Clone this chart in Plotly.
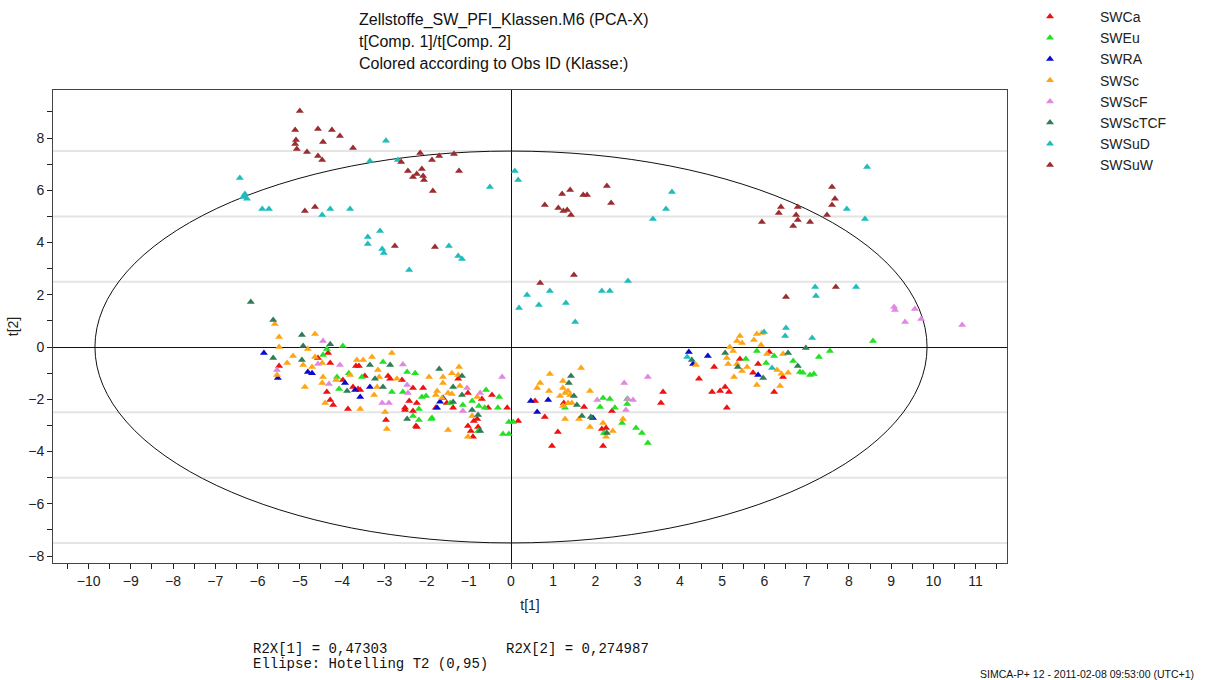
import plotly.graph_objects as go

# ---------------- data (t[1], t[2]) per class ----------------
classes = ["SWCa", "SWEu", "SWRA", "SWSc", "SWScF", "SWScTCF", "SWSuD", "SWSuW"]
colors = ["#ee1111", "#22e022", "#0a0acc", "#ffa515", "#e088e0", "#2e7d55", "#1fbcbc", "#9b2d30"]

SWCa = [(-5.49,-0.73),(-4.33,-0.23),(-4.57,-0.42),(-4.28,-0.61),(-4.36,-1.72),(-4.28,-2.03),(-4.21,-2.22),
        (-3.86,-2.37),(-3.67,-0.73),(-3.60,-0.73),(-3.98,-1.26),(-3.62,-1.61),(-3.46,-1.11),(-2.91,-1.11),
        (-2.86,-1.22),(-3.57,-1.65),(-3.74,-1.53),(-2.96,-2.79),(-2.51,-2.33),(-2.58,-1.26),(-2.32,-1.57),
        (-2.08,-1.57),(-2.41,-2.07),(-2.23,-2.14),(-2.51,-2.41),(-2.32,-2.45),(-2.25,-3.02),(-1.52,-2.14),
        (-1.37,-2.33),(-1.25,-1.22),(-1.02,-1.76),(-0.69,-1.99),(-0.54,-2.33),(-0.45,-1.84),(-0.09,-2.33),
        (0.17,-2.83),(-0.80,-2.76),(-0.88,-2.83),(-1.02,-3.02),(-0.95,-3.22),(-0.90,-3.44),(-0.78,-3.06),
        (-2.23,-3.06),(-1.78,-2.33),(0.57,-2.07),(1.25,-2.14),(1.73,-2.30),(0.80,-2.68),(1.11,-3.25),
        (0.97,-3.79),(2.15,-3.14),(2.25,-3.10),(2.18,-3.79),(2.39,-2.45),(3.60,-1.72),(3.55,-2.14),
        (5.42,-0.46),(6.11,-0.19),(5.85,-0.65),(5.73,-0.99),(4.81,-0.77),(4.45,-1.22),(4.76,-1.72),
        (4.95,-1.68),(5.07,-1.53),(5.16,-1.72),(5.11,-2.33),(6.23,-1.72),(6.44,-1.15)]

SWEu = [(-3.98,0.04),(-4.36,-0.08),(-4.45,-0.31),(-4.12,-1.15),(-3.84,-1.00),(-4.07,-1.61),(-3.53,-1.15),
        (-3.03,-0.57),(-2.82,-1.72),(-2.46,-0.96),(-2.27,-1.00),(-2.56,-1.72),(-2.11,-1.91),(-2.01,-1.88),
        (-2.18,-2.37),(-2.32,-2.64),(-2.18,-2.79),(-1.89,-2.76),(-1.14,-2.22),(-0.92,-2.07),(-0.76,-2.26),
        (-0.59,-1.65),(-0.62,-2.33),(-0.28,-1.91),(-0.31,-2.33),(-0.05,-2.87),(0.05,-2.87),(-0.19,-3.33),
        (-0.05,-3.33),(-0.78,-3.22),(-1.44,-2.14),(-1.87,-2.72),(2.18,-1.95),(2.34,-1.99),(2.11,-2.30),
        (2.46,-2.33),(2.75,-1.99),(2.75,-2.18),(2.63,-2.91),(2.96,-3.10),(3.10,-3.29),(3.24,-3.67),
        (2.20,-3.29),(1.28,-2.33),(5.82,-0.15),(5.56,-0.46),(6.04,-0.61),(6.23,-0.34),(6.68,-0.54),
        (6.84,-0.96),(6.91,-0.99),(7.08,-1.07),(7.17,-1.03),(7.29,-0.38),(7.55,-0.15),(8.57,0.23)]

SWRA = [(-5.85,-0.23),(-5.52,-1.19),(-4.81,-0.96),(-4.71,-1.00),(-3.69,-1.65),(-3.93,-1.38),(-3.34,-1.53),
        (-3.57,-1.91),(-1.61,-1.95),(-1.75,-2.33),(-1.68,-2.10),(0.47,-2.07),(0.88,-2.03),(0.62,-2.49),
        (1.94,-2.72),(4.21,-0.19),(4.66,-0.34),(4.31,-0.65),(5.85,-1.07)]

SWSc = [(-5.59,0.88),(-5.49,0.38),(-5.49,0.00),(-4.64,0.50),(-4.81,-0.08),(-5.16,-0.34),(-5.30,-0.61),
        (-4.92,-0.69),(-5.54,-1.07),(-4.88,-1.53),(-4.47,-0.61),(-4.64,-0.38),(-4.71,-0.77),(-4.45,-1.15),
        (-4.47,-1.38),(-4.40,-2.14),(-3.65,-0.50),(-3.50,-0.50),(-3.29,-0.38),(-2.82,-0.23),(-3.15,-0.88),
        (-3.17,-1.53),(-3.24,-1.84),(-3.57,-2.37),(-4.14,-1.26),(-3.81,-1.07),(-3.12,-1.15),(-2.98,-2.49),
        (-2.94,-3.14),(-2.70,-1.22),(-1.94,-1.15),(-1.61,-1.15),(-1.61,-1.38),(-1.40,-1.00),(-1.23,-0.77),
        (-1.25,-1.07),(-1.75,-1.68),(-1.49,-1.76),(-1.40,-1.80),(-1.21,-1.49),(-1.63,-1.95),(-0.80,-1.91),
        (-0.92,-2.64),(-1.49,-3.18),(-1.02,-3.44),(-1.78,-1.84),(0.92,-1.03),(1.66,-0.80),(0.69,-1.38),
        (0.62,-1.57),(0.90,-1.68),(1.23,-1.30),(1.23,-1.57),(1.28,-1.76),(1.35,-1.68),(1.16,-1.88),
        (1.40,-1.84),(1.44,-2.14),(1.35,-2.14),(1.87,-1.68),(1.28,-2.76),(1.61,-2.76),(1.87,-3.06),
        (2.18,-2.91),(2.25,-3.44),(2.41,-3.22),(2.65,-2.76),(1.23,-2.26),(5.42,0.42),(5.35,0.23),
        (5.47,0.15),(5.82,0.50),(5.75,0.27),(5.94,0.54),(5.92,0.08),(5.18,0.00),(5.26,-0.15),(5.11,-0.42),
        (5.14,-0.65),(5.35,-0.65),(5.59,-0.77),(5.47,-0.92),(5.28,-1.15),(4.38,-0.69),(6.06,-0.27),
        (6.30,-0.88),(6.44,-0.27),(6.56,-0.99),(6.40,-1.02),(5.82,-1.45),(6.37,-1.49)]

SWScF = [(-4.45,0.23),(-5.54,-0.88),(-4.05,-0.69),(-4.57,-0.65),(-4.31,-1.42),(-2.56,-0.67),(-3.05,-2.14),
         (-2.89,-2.14),(-0.21,-1.15),(-1.04,-1.57),(-0.73,-1.76),(-1.14,-2.45),(-2.44,-1.76),(-2.46,-1.45),
         (2.68,-1.38),(3.24,-1.15),(2.04,-2.03),(2.77,-1.99),(2.89,-2.03),(2.72,-2.41),(9.07,1.53),
         (9.09,1.42),(9.56,1.45),(9.33,0.96),(9.71,1.07),(10.68,0.84)]

SWScTCF = [(-6.16,1.72),(-5.63,1.03),(-4.95,0.46),(-4.92,0.04),(-5.63,-0.42),(-4.95,-0.50),(-4.28,0.11),
           (-3.88,-1.68),(-3.34,-0.69),(-3.22,-1.22),(-3.03,-1.53),(-2.86,-0.69),(-2.46,-2.76),(-1.70,-0.84),
           (-1.16,-1.11),(-1.37,-1.53),(-1.37,-2.11),(-1.16,-1.84),(-0.92,-2.41),(-0.78,-2.60),(-0.73,-3.22),
           (1.42,-1.11),(1.37,-1.38),(1.49,-1.88),(1.56,-2.22),(1.68,-2.64),(1.89,-2.68),(2.27,-3.29),
           (5.07,-0.23),(4.28,-0.50),(5.37,-0.77),(5.97,-1.19),(6.56,-0.23),(6.79,-0.73),(6.98,-0.04)]

SWSuD = [(-6.42,6.47),(-6.30,5.86),(-6.34,5.74),(-6.25,5.67),(-5.89,5.28),(-5.73,5.28),(-4.28,5.28),
         (-4.47,5.05),(-3.81,5.28),(-2.96,7.89),(-3.34,7.12),(-2.68,7.16),(-0.50,6.12),(0.09,6.74),
         (0.17,6.39),(-3.39,4.21),(-3.39,3.94),(-3.10,4.44),(-3.05,3.75),(-3.01,3.60),(-1.47,3.87),
         (-1.25,3.48),(-1.16,3.37),(-2.41,2.95),(0.38,1.99),(0.19,1.49),(3.81,5.93),(3.67,5.28),
         (3.36,4.90),(8.43,6.89),(7.95,5.28),(8.38,4.90),(0.92,2.14),(0.66,1.61),(1.30,1.68),(1.52,0.96),
         (2.15,2.14),(2.34,2.14),(2.77,2.53),(7.20,2.30),(7.22,1.95),(8.17,2.30),(6.51,0.73),(6.49,0.42),
         (7.13,0.34),(5.99,0.57),(4.17,-0.38),(6.18,-0.80)]

SWSuW = [(-5.00,9.03),(-5.11,8.31),(-5.09,7.92),(-5.11,7.77),(-5.07,7.58),(-4.83,7.46),(-4.57,8.34),
         (-4.45,7.85),(-4.24,8.31),(-4.05,8.08),(-4.57,7.31),(-4.47,7.16),(-3.74,7.62),(-2.15,7.43),
         (-1.87,7.16),(-1.70,7.31),(-1.35,7.39),(-2.60,7.08),(-2.44,6.74),(-2.11,6.81),(-2.23,6.62),
         (-2.32,6.51),(-2.08,6.55),(-2.06,6.39),(-1.23,6.74),(-1.85,5.97),(-4.88,5.21),(-4.64,5.36),
         (-2.75,3.87),(-1.80,3.83),(0.80,5.44),(1.21,5.86),(1.40,6.01),(1.12,5.32),(1.24,5.21),(1.33,5.24),
         (1.42,5.05),(1.71,5.82),(1.80,5.82),(2.27,6.16),(2.37,5.51),(0.69,2.45),(1.49,2.76),(5.94,4.78),
         (6.39,5.36),(6.34,5.13),(6.68,4.63),(6.75,5.05),(6.79,4.86),(6.79,5.36),(7.08,4.78),(7.48,5.05),
         (7.60,6.12),(7.67,5.67),(7.60,5.44),(7.69,2.30),(6.51,1.91)]

series = [SWCa, SWEu, SWRA, SWSc, SWScF, SWScTCF, SWSuD, SWSuW]

# Hotelling T2 (0.95) ellipse semi-axes and warning lines
ellipse_a, ellipse_b = 9.85, 7.5
grid_levels = [-7.5, -5, -2.5, 2.5, 5, 7.5]

title_lines = ["Zellstoffe_SW_PFI_Klassen.M6 (PCA-X)", "t[Comp. 1]/t[Comp. 2]",
               "Colored according to Obs ID (Klasse:)"]
r2x_1 = "R2X[1] = 0,47303"
r2x_2 = "R2X[2] = 0,274987"
ellipse_txt = "Ellipse: Hotelling T2 (0,95)"
footer = "SIMCA-P+ 12 - 2011-02-08 09:53:00 (UTC+1)"

# ---------------- figure ----------------
fig = go.Figure()
for name, col, pts in zip(classes, colors, series):
    fig.add_trace(go.Scatter(
        x=[p[0] for p in pts], y=[p[1] for p in pts], mode="markers", name=name,
        marker=dict(symbol="triangle-up", size=7, color=col, line=dict(width=0)),
    ))

shapes = []
for g in grid_levels:
    shapes.append(dict(type="line", xref="paper", x0=0, x1=1, yref="y", y0=g, y1=g,
                       line=dict(color="#e4e4e4", width=2), layer="below"))
shapes.append(dict(type="circle", xref="x", yref="y", x0=-ellipse_a, x1=ellipse_a,
                   y0=-ellipse_b, y1=ellipse_b, line=dict(color="#111111", width=1), layer="below"))

FONT = "Liberation Sans, Arial, sans-serif"
MONO = "Liberation Mono, Courier New, monospace"

L, R, T, B = 53, 1007, 90, 563
W, H = 1205, 680
def px(xp):
    return (xp - L) / (R - L)
def py(yp):
    return (B - yp) / (B - T)

annotations = []
for i, (line, yp) in enumerate(zip(title_lines, [20, 42, 63])):
    annotations.append(dict(text=line, xref="paper", yref="paper", x=px(357), y=py(yp),
                            xanchor="left", yanchor="middle", showarrow=False,
                            font=dict(family=FONT, size=16, color="#111")))
annotations += [
    dict(text=r2x_1, xref="paper", yref="paper", x=px(251), y=py(649), xanchor="left",
         yanchor="middle", showarrow=False, font=dict(family=MONO, size=14, color="#111")),
    dict(text=r2x_2, xref="paper", yref="paper", x=px(504), y=py(649), xanchor="left",
         yanchor="middle", showarrow=False, font=dict(family=MONO, size=14, color="#111")),
    dict(text=ellipse_txt, xref="paper", yref="paper", x=px(251), y=py(664), xanchor="left",
         yanchor="middle", showarrow=False, font=dict(family=MONO, size=14, color="#111")),
    dict(text=footer, xref="paper", yref="paper", x=px(1196), y=py(674), xanchor="right",
         yanchor="middle", showarrow=False, font=dict(family=FONT, size=10.5, color="#111")),
]

fig.update_layout(
    width=W, height=H,
    margin=dict(l=L, r=W - R, t=T, b=H - B, pad=0, autoexpand=False),
    paper_bgcolor="white", plot_bgcolor="white",
    font=dict(family=FONT, size=14, color="#222"),
    shapes=shapes, annotations=annotations,
    showlegend=True,
    legend=dict(x=px(1000), y=py(1), xanchor="left", yanchor="top",
                font=dict(family=FONT, size=14, color="#222"),
                itemwidth=90, tracegroupgap=0, bgcolor="rgba(0,0,0,0)", borderwidth=0),
)
fig.update_xaxes(
    range=[(L - 511) / 42.24, (R - 511) / 42.24], dtick=1, tick0=0,
    showgrid=False, zeroline=True, zerolinecolor="#111", zerolinewidth=1,
    showline=True, mirror=True, linecolor="#444", linewidth=1,
    ticks="outside", ticklen=5, tickcolor="#222",
    minor=dict(dtick=0.5, tick0=0, ticks="outside", ticklen=5, tickcolor="#222", showgrid=False),
    tickfont=dict(size=14, color="#222"),
    title=dict(text="t[1]", font=dict(size=14, color="#222"), standoff=12),
)
fig.update_yaxes(
    range=[-(B - 347) / 26.125, (347 - T) / 26.125], dtick=2, tick0=0,
    showgrid=False, zeroline=True, zerolinecolor="#111", zerolinewidth=1,
    showline=True, mirror=True, linecolor="#444", linewidth=1,
    ticks="outside", ticklen=5, tickcolor="#222",
    minor=dict(dtick=1, tick0=0, ticks="outside", ticklen=5, tickcolor="#222", showgrid=False),
    tickfont=dict(size=14, color="#222"),
    title=dict(text="t[2]", font=dict(size=14, color="#222"), standoff=6),
)

fig.write_html("out.html", config={"displayModeBar": False},
               post_script="document.body.style.margin='0';document.body.style.padding='0';")
